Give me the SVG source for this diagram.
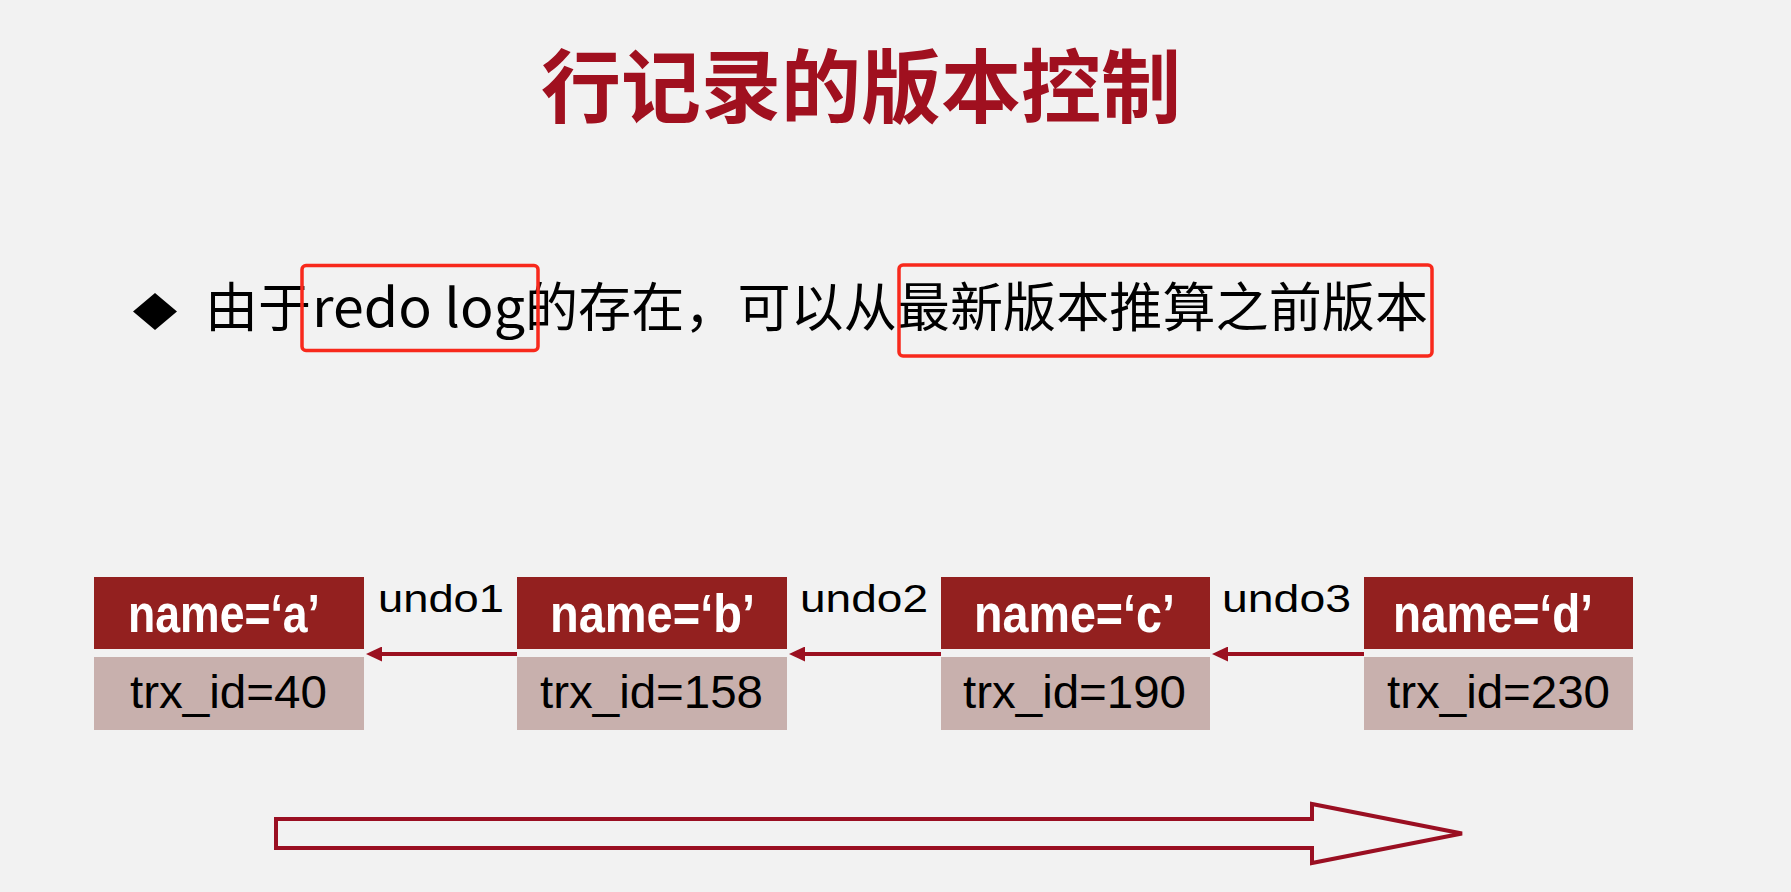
<svg xmlns="http://www.w3.org/2000/svg" width="1791" height="892" viewBox="0 0 1791 892">
  <style>
    .title { font-family: "Noto Sans CJK SC", "Liberation Sans", sans-serif; font-weight: 700; font-size: 80px; fill: #a0101f; }
    .bullet { font-family: "Noto Sans CJK SC", "Liberation Sans", sans-serif; font-size: 53px; fill: #000; }
    .hl { fill: none; stroke: #f8291c; stroke-width: 3.5; }
    .name-bg { fill: #93201f; }
    .trx-bg { fill: #c8b0ad; }
    .name-txt { font-family: "Liberation Sans", Arial, sans-serif; font-weight: 700; font-size: 53px; fill: #ffffff; }
    .trx-txt { font-family: "Liberation Sans", Arial, sans-serif; font-size: 46px; fill: #000; }
    .undo-txt { font-family: "Liberation Sans", Arial, sans-serif; font-size: 39px; fill: #000; }
    .conn { stroke: #9b1020; stroke-width: 4; fill: none; }
    .big-arrow { fill: none; stroke: #9a0f22; stroke-width: 4; stroke-linejoin: miter; }
  </style>
  <defs>
    <marker id="ah" markerUnits="userSpaceOnUse" markerWidth="16" markerHeight="15" refX="6" refY="7.5" orient="auto">
      <path d="M0,0 L16,7.5 L0,15 Z" fill="#9b1020"/>
    </marker>
  </defs>

  <rect x="0" y="0" width="1791" height="892" fill="#f2f2f2"/>

  <text class="title" x="861" y="116" text-anchor="middle">行记录的版本控制</text>

  <g id="bullet">
    <polygon points="155,293 177,311.5 155,330 133,311.5" fill="#000"/>
    <text class="bullet" y="327"><tspan x="205">由于</tspan><tspan x="312" textLength="213" lengthAdjust="spacingAndGlyphs">redo log</tspan><tspan x="525" textLength="903" lengthAdjust="spacingAndGlyphs">的存在，可以从最新版本推算之前版本</tspan></text>
    <rect class="hl" x="302" y="265.5" width="236" height="85" rx="4"/>
    <rect class="hl" x="899" y="265" width="533" height="91" rx="4"/>
  </g>

  <g id="node-a">
    <rect class="name-bg" x="94" y="577" width="270" height="72"/>
    <rect class="trx-bg" x="94" y="657" width="270" height="73"/>
    <text class="name-txt" x="128" y="632" textLength="192" lengthAdjust="spacingAndGlyphs">name=‘a’</text>
    <text class="trx-txt" x="130" y="708" textLength="197" lengthAdjust="spacingAndGlyphs">trx_id=40</text>
  </g>
  <g id="node-b">
    <rect class="name-bg" x="517" y="577" width="270" height="72"/>
    <rect class="trx-bg" x="517" y="657" width="270" height="73"/>
    <text class="name-txt" x="550" y="632" textLength="205" lengthAdjust="spacingAndGlyphs">name=‘b’</text>
    <text class="trx-txt" x="540" y="708" textLength="223" lengthAdjust="spacingAndGlyphs">trx_id=158</text>
  </g>
  <g id="node-c">
    <rect class="name-bg" x="941" y="577" width="269" height="72"/>
    <rect class="trx-bg" x="941" y="657" width="269" height="73"/>
    <text class="name-txt" x="974" y="632" textLength="201" lengthAdjust="spacingAndGlyphs">name=‘c’</text>
    <text class="trx-txt" x="963" y="708" textLength="223" lengthAdjust="spacingAndGlyphs">trx_id=190</text>
  </g>
  <g id="node-d">
    <rect class="name-bg" x="1364" y="577" width="269" height="72"/>
    <rect class="trx-bg" x="1364" y="657" width="269" height="73"/>
    <text class="name-txt" x="1393" y="632" textLength="200" lengthAdjust="spacingAndGlyphs">name=‘d’</text>
    <text class="trx-txt" x="1387" y="708" textLength="223" lengthAdjust="spacingAndGlyphs">trx_id=230</text>
  </g>

  <g id="connectors">
    <line class="conn" x1="517" y1="654" x2="376" y2="654" marker-end="url(#ah)"/>
    <line class="conn" x1="941" y1="654" x2="799" y2="654" marker-end="url(#ah)"/>
    <line class="conn" x1="1364" y1="654" x2="1222" y2="654" marker-end="url(#ah)"/>
    <text class="undo-txt" x="378" y="612" textLength="126" lengthAdjust="spacingAndGlyphs">undo1</text>
    <text class="undo-txt" x="800" y="612" textLength="128" lengthAdjust="spacingAndGlyphs">undo2</text>
    <text class="undo-txt" x="1222" y="612" textLength="129" lengthAdjust="spacingAndGlyphs">undo3</text>
  </g>

  <g id="big-arrow">
    <polygon class="big-arrow" points="276,819 1312,819 1312,804 1462,833.5 1312,863 1312,848 276,848"/>
  </g>
</svg>
